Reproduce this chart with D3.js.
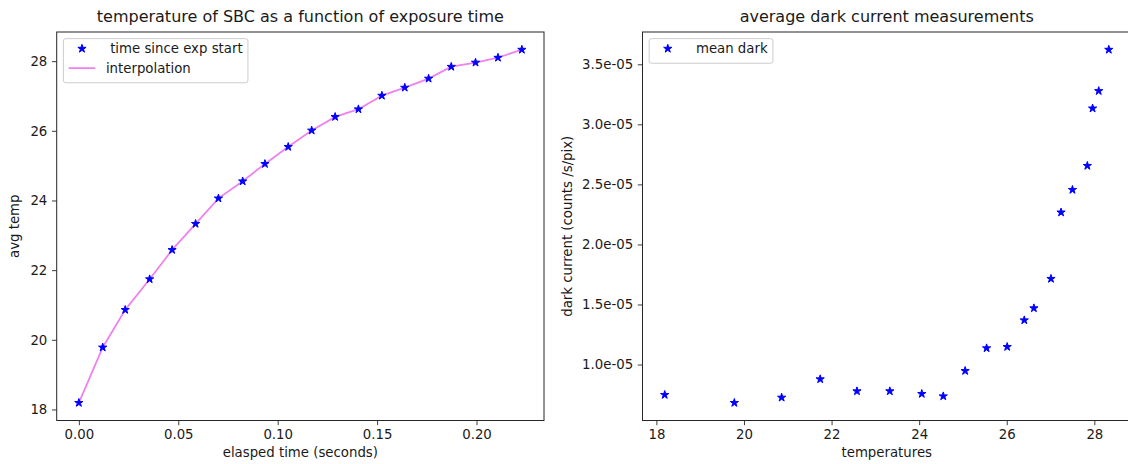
<!DOCTYPE html>
<html>
<head>
<meta charset="utf-8">
<script src="https://cdn.jsdelivr.net/npm/d3@7"></script>
<style>
  body { margin: 0; background: #fff; }
  text { font-family: "DejaVu Sans", sans-serif; fill: #1a1a1a; }
</style>
</head>
<body>
<svg id="chart"></svg>
<script>
// elapsed time (seconds) since exposure start
const elapsedTime = [0, 0.012, 0.0233, 0.0356, 0.0469, 0.0587, 0.0702, 0.0824, 0.0936, 0.1053,
  0.1171, 0.1289, 0.1406, 0.1524, 0.1639, 0.1759, 0.1873, 0.1995, 0.2108, 0.2228];
// average SBC temperature at each time
const avgTemp = [18.19, 19.78, 20.86, 21.74, 22.58, 23.33, 24.06, 24.55, 25.05, 25.54,
  26.01, 26.40, 26.62, 27.01, 27.24, 27.50, 27.84, 27.96, 28.10, 28.33];
// mean dark current (counts /s/pix)
const meanDark = [0.7475e-5, 0.681e-5, 0.725e-5, 0.878e-5, 0.778e-5, 0.778e-5, 0.756e-5, 0.736e-5, 0.947e-5, 1.136e-5,
  1.147e-5, 1.369e-5, 1.469e-5, 1.714e-5, 2.267e-5, 2.455e-5, 2.655e-5, 3.133e-5, 3.278e-5, 3.622e-5];

const timeTicks = [0, 0.05, 0.1, 0.15, 0.2];
const tempTicks = [18, 20, 22, 24, 26, 28];
const darkTicks = [1.0e-5, 1.5e-5, 2.0e-5, 2.5e-5, 3.0e-5, 3.5e-5];

const W = 1128, H = 464;
const fs = 13.3;
const plotTop = 32, plotBottom = 420.5;

const svg = d3.select("#chart").attr("width", W).attr("height", H);

// matplotlib style 5% margins
const padded = (arr) => {
  const [lo, hi] = d3.extent(arr);
  const m = (hi - lo) * 0.05;
  return [lo - m, hi + m];
};

const star = d3.symbol().type(d3.symbolStar).size(21);

function drawPanel({ left, right, xs, ys, xTicks, yTicks, xFmt, yFmt, title, xLabel, yLabel, yLabelX, line, legend }) {
  const x = d3.scaleLinear().domain(padded(xs)).range([left, right]);
  const y = d3.scaleLinear().domain(padded(ys)).range([plotBottom, plotTop]);
  const pts = xs.map((v, i) => [v, ys[i]]);
  const g = svg.append("g");

  const clipId = "clip" + Math.round(left);
  g.append("clipPath").attr("id", clipId)
    .append("rect").attr("x", left).attr("y", plotTop).attr("width", right - left).attr("height", plotBottom - plotTop);

  const plot = g.append("g").attr("clip-path", `url(#${clipId})`);

  if (line) {
    plot.append("path")
      .datum(pts)
      .attr("fill", "none")
      .attr("stroke", "violet")
      .attr("stroke-width", 1.8)
      .attr("d", d3.line().x((d) => x(d[0])).y((d) => y(d[1])));
  }

  plot.selectAll("path.pt")
    .data(pts)
    .enter()
    .append("path")
    .attr("class", "pt")
    .attr("d", star)
    .attr("transform", (d) => `translate(${x(d[0])},${y(d[1])})`)
    .attr("fill", "blue")
    .attr("stroke", "blue")
    .attr("stroke-width", 1);

  // axes
  const xAxis = g.append("g")
    .attr("transform", `translate(0,${plotBottom})`)
    .call(d3.axisBottom(x).tickValues(xTicks).tickFormat(xFmt).tickSize(4.7).tickPadding(4.5));
  const yAxis = g.append("g")
    .attr("transform", `translate(${left},0)`)
    .call(d3.axisLeft(y).tickValues(yTicks).tickFormat(yFmt).tickSize(4.7).tickPadding(4.7));
  [xAxis, yAxis].forEach((a) => {
    a.select(".domain").remove();
    a.selectAll(".tick line").attr("stroke", "#262626").attr("stroke-width", 0.9);
    a.selectAll(".tick text").attr("font-size", fs).attr("font-family", "DejaVu Sans").attr("fill", "#1a1a1a");
  });

  // frame
  g.append("rect")
    .attr("x", left).attr("y", plotTop)
    .attr("width", right - left).attr("height", plotBottom - plotTop)
    .attr("fill", "none").attr("stroke", "#262626").attr("stroke-width", 1);

  const cx = (left + right) / 2;
  g.append("text")
    .attr("x", cx).attr("y", 21.5)
    .attr("text-anchor", "middle")
    .attr("font-size", 16)
    .text(title);

  g.append("text")
    .attr("x", cx).attr("y", 457)
    .attr("text-anchor", "middle")
    .attr("font-size", fs)
    .text(xLabel);

  g.append("text")
    .attr("transform", `translate(${yLabelX},${(plotTop + plotBottom) / 2}) rotate(-90)`)
    .attr("text-anchor", "middle")
    .attr("font-size", fs)
    .text(yLabel);

  // legend
  const lx = left + 0.5 * fs, ly = plotTop + 0.5 * fs;
  const pad = 0.4 * fs, rowH = 19.5;
  const lg = g.append("g");
  const box = lg.append("rect")
    .attr("x", lx).attr("y", ly)
    .attr("rx", 2.5)
    .attr("height", pad * 2 + rowH * (legend.length - 1) + fs * 1.05)
    .attr("fill", "white").attr("fill-opacity", 0.8)
    .attr("stroke", "#cccccc").attr("stroke-width", 1);

  let maxW = 0;
  legend.forEach((item, i) => {
    const hy = ly + 10 + i * rowH;
    const hx = lx + pad;
    if (item.type === "star") {
      lg.append("path").attr("d", star)
        .attr("transform", `translate(${hx + fs},${hy})`)
        .attr("fill", "blue").attr("stroke", "blue").attr("stroke-width", 1);
    } else {
      lg.append("line")
        .attr("x1", hx).attr("x2", hx + 2 * fs)
        .attr("y1", hy).attr("y2", hy)
        .attr("stroke", "violet").attr("stroke-width", 1.8);
    }
    const t = lg.append("text")
      .attr("x", hx + 2.8 * fs).attr("y", hy)
      .attr("dy", "0.35em")
      .attr("font-size", fs)
      .style("white-space", "pre")
      .text(item.label);
    maxW = Math.max(maxW, 2.8 * fs + t.node().getComputedTextLength());
  });
  box.attr("width", maxW + 2 * pad);
}

const expFmt = (d) => d.toExponential(1).replace(/e-(\d)$/, "e-0$1");

drawPanel({
  left: 56.7, right: 544,
  xs: elapsedTime, ys: avgTemp,
  xTicks: timeTicks, yTicks: tempTicks,
  xFmt: d3.format(".2f"), yFmt: d3.format("d"),
  title: "temperature of SBC as a function of exposure time",
  xLabel: "elasped time (seconds)",
  yLabel: "avg temp", yLabelX: 19,
  line: true,
  legend: [
    { type: "star", label: " time since exp start" },
    { type: "line", label: "interpolation" },
  ],
});

drawPanel({
  left: 642.5, right: 1131,
  xs: avgTemp, ys: meanDark,
  xTicks: tempTicks, yTicks: darkTicks,
  xFmt: d3.format("d"), yFmt: expFmt,
  title: "average dark current measurements",
  xLabel: "temperatures",
  yLabel: "dark current (counts /s/pix)", yLabelX: 572,
  line: false,
  legend: [{ type: "star", label: " mean dark" }],
});
</script>
</body>
</html>
